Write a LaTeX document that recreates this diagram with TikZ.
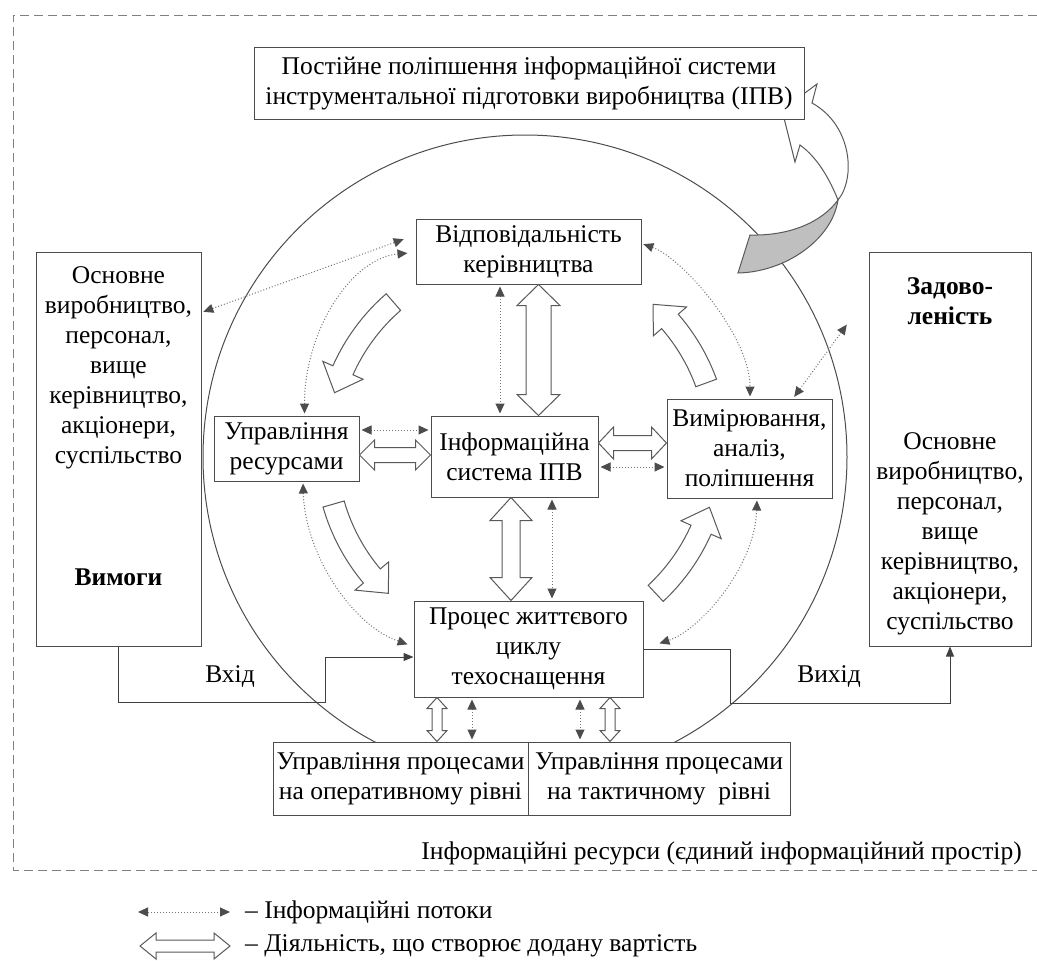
\documentclass[tikz,border=0pt]{standalone}
\usepackage{fontspec}
\setmainfont{Liberation Serif}
\usetikzlibrary{arrows.meta,calc}

\tikzset{
  box/.style={draw=black!70, fill=white, line width=1pt, align=center, inner sep=0pt,
    font=\fontsize{25.5}{30}\selectfont},
  txt/.style={align=center, inner sep=0pt, font=\fontsize{25.5}{30}\selectfont},
  flow/.style={draw=black!55, line width=1pt, dash pattern=on 1pt off 2pt,
    shorten <=2pt, shorten >=2pt,
    {Triangle[length=10pt,width=9pt,color=black!70]}-{Triangle[length=10pt,width=9pt,color=black!70]}},
  hollow/.style={draw=black!65, fill=white, line width=1pt, line join=miter},
  link/.style={draw=black!75, line width=1pt, -{Triangle[length=10pt,width=8pt,color=black!75]}}
}

% vertical hollow double arrow: top point, bottom point, shaft, head, head length
\newcommand{\vhollow}[5]{%
  \draw[hollow] let \p1=(#1), \p2=(#2) in
    (\x1,\y1) -- (\x1+#4,\y1-#5) -- (\x1+#3,\y1-#5) -- (\x1+#3,\y2+#5) -- (\x1+#4,\y2+#5) -- (\x1,\y2)
    -- (\x1-#4,\y2+#5) -- (\x1-#3,\y2+#5) -- (\x1-#3,\y1-#5) -- (\x1-#4,\y1-#5) -- cycle;}
% horizontal hollow double arrow: left point, right point, shaft, head, head length
\newcommand{\hhollow}[5]{%
  \draw[hollow] let \p1=(#1), \p2=(#2) in
    (\x1,\y1) -- (\x1+#5,\y1+#4) -- (\x1+#5,\y1+#3) -- (\x2-#5,\y1+#3) -- (\x2-#5,\y1+#4) -- (\x2,\y1)
    -- (\x2-#5,\y1-#4) -- (\x2-#5,\y1-#3) -- (\x1+#5,\y1-#3) -- (\x1+#5,\y1-#4) -- cycle;}

\begin{document}
\begin{tikzpicture}[x=1pt,y=-1pt]
  \useasboundingbox (0,0) rectangle (1037,961);

  % frame and circle
  \draw[black!50, line width=1pt, dash pattern=on 9pt off 5pt] (1037,15) -- (13,15) -- (13,870) -- (1037,870);
  \draw[black!70, line width=1pt] (525,457) circle (322);

  % improvement arrow
  \draw[hollow] (812,103) .. controls (852,125) and (856,178) .. (838,200)
    .. controls (830,180) and (818,158) .. (800,145) -- (795,162) -- (782,110) -- (817,84) -- cycle;
  \draw[hollow, fill=black!25] (838,200) .. controls (832,240) and (785,272) .. (738,273)
    -- (750,235) .. controls (790,236) and (822,222) .. (838,200) -- cycle;

  % boxes
  \node[box, minimum width=550, minimum height=72] (post) at (529,83)
    {Постійне поліпшення інформаційної системи\\інструментальної підготовки виробництва (ІПВ)};
  \node[box, minimum width=225, minimum height=65] (vid) at (528.5,251.5) {Відповідальність\\керівництва};
  \node[box, minimum width=145, minimum height=65] (ur) at (286.5,448.5) {Управління\\ресурсами};
  \node[box, minimum width=167, minimum height=81] (is) at (514.5,456.5) {Інформаційна\\система ІПВ};
  \node[box, minimum width=165, minimum height=99] (vim) at (749.5,448.5) {Вимірювання,\\аналіз,\\поліпшення};
  \node[box, minimum width=229, minimum height=96] (proc) at (528.5,649) {Процес життєвого\\циклу\\техоснащення};
  \node[box, minimum width=255, minimum height=73] (opr) at (400.5,778.5) {Управління процесами\\на оперативному рівні};
  \node[box, minimum width=262, minimum height=73] (takt) at (659,778.5) {Управління процесами\\на тактичному~ рівні};
  \node[box, minimum width=165, minimum height=394] (req) at (118.5,449) {};
  \node[box, minimum width=162, minimum height=394] (sat) at (950,449) {};

  \node[txt] (reqtxt) at (118.5,368) {Основне\\виробництво,\\персонал,\\вище\\керівництво,\\акціонери,\\суспільство};
  \node[txt, font=\fontsize{25.5}{30}\selectfont\bfseries] (reqbold) at (118.5,577) {Вимоги};
  \node[txt, font=\fontsize{25.5}{30}\selectfont\bfseries] (satbold) at (950,301) {Задово-\\леність};
  \node[txt] (sattxt) at (950,534) {Основне\\виробництво,\\персонал,\\вище\\керівництво,\\акціонери,\\суспільство};

  % value adding activities
  \vhollow{$(vid.south)+(10,0)$}{is.north}{12.5pt}{21.5pt}{21pt}
  \vhollow{$(is.south)+(-3.5,0)$}{proc.north}{9pt}{21pt}{23pt}
  \hhollow{$(ur.east)+(0,6.5)$}{is.west}{7.5pt}{15pt}{15pt}
  \hhollow{$(is.east)+(0,-13.5)$}{vim.west}{7.5pt}{16pt}{15pt}
  \vhollow{$(proc.south)+(-91.5,0)$}{opr.north}{5pt}{10pt}{11pt}
  \vhollow{$(proc.south)+(81.5,0)$}{takt.north}{5pt}{10pt}{11pt}

  \begin{scope}[shift={(522,450)}, yscale=-1]
    \foreach \a/\b in {131/163, 196/227, 313/343, 20/48}
      \draw[hollow] (\a:207) arc[start angle=\a, end angle=\b-7, radius=207]
        -- ({\b-7}:218) -- (\b:196) -- ({\b-7}:174) -- ({\b-7}:185)
        arc[start angle=\b-7, end angle=\a, radius=185] -- cycle;
  \end{scope}

  % information flows
  \draw[flow] ($(vid.south)+(-28.5,0)$) -- ($(is.north)+(-14.5,0)$);
  \draw[flow] ($(is.south)+(37.5,0)$) -- ($(proc.north)+(23.5,0)$);
  \draw[flow] ($(ur.east)+(0,-18.5)$) -- ($(is.west)+(0,-26.5)$);
  \draw[flow] ($(is.east)+(0,10.5)$) -- ($(vim.west)+(0,18.5)$);
  \draw[flow] ($(proc.south)+(-56.5,0)$) -- ($(opr.north)+(71.5,0)$);
  \draw[flow] ($(proc.south)+(51.5,0)$) -- ($(takt.north)+(-79,0)$);
  \draw[flow] ($(req.north east)+(0,61)$) -- ($(vid.west)+(-10,-13)$);
  \draw[flow] ($(ur.north)+(18,0)$) .. controls +(0,-85) and +(-58,5) .. ($(vid.west)+(-6,1.5)$);
  \draw[flow] ($(vid.east)+(0,-8)$) .. controls +(42,15) and +(0,-62) .. ($(vim.north)+(0.5,0)$);
  \draw[flow] ($(vim.south)+(7.5,0)$) .. controls +(-2,68) and +(43,-14) .. ($(proc.east)+(14,-5)$);
  \draw[flow] ($(ur.south)+(16.5,0)$) .. controls +(2,72) and +(-58,-20) .. ($(proc.west)+(-4,-4)$);
  \coordinate (satpt) at (848,323);
  \draw[flow] ($(vim.north)+(43.5,0)$) -- (satpt);

  % input and output
  \draw[link] (req.south) -- ++(0,56) -| ($(proc.west)+(-88,8)$) -- ($(proc.west)+(0,8)$);
  \draw[link] (proc.east) -- ++(87,0) |- ($(sat.south)+(0,57)$) -- (sat.south);
  \node[txt] (vhid) at (230,677) {Вхід};
  \node[txt] (vyhid) at (829,677) {Вихід};

  \node[txt, anchor=east] (res) at (1022,853) {Інформаційні ресурси (єдиний інформаційний простір)};

  % legend
  \coordinate (l1a) at (138,912);
  \coordinate (l1b) at (230,912);
  \draw[flow, shorten <=0pt, shorten >=0pt] (l1a) -- (l1b);
  \node[txt, anchor=west] (l1t) at (245,912) {– Інформаційні потоки};
  \coordinate (l2a) at (140,946);
  \coordinate (l2b) at (230,946);
  \hhollow{l2a}{l2b}{6pt}{13pt}{16pt}
  \node[txt, anchor=west] (l2t) at (245,946) {– Діяльність, що створює додану вартість};
\end{tikzpicture}
\end{document}
